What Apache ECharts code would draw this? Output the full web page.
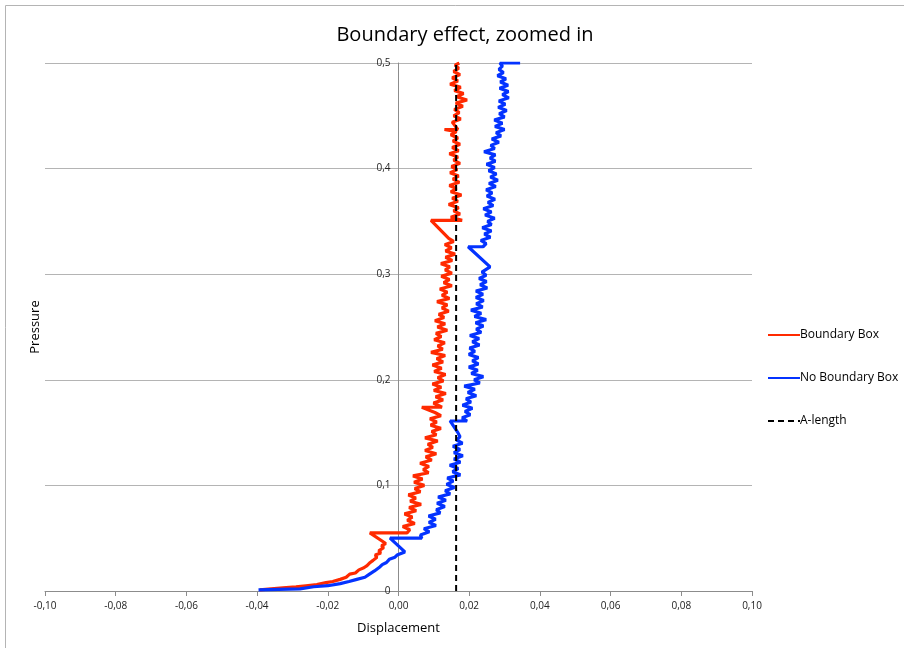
<!DOCTYPE html>
<html lang="en">
<head>
    <meta charset="UTF-8">
    <title>Boundary effect, zoomed in</title>
    <script src="https://cdn.jsdelivr.net/npm/echarts@6/dist/echarts.min.js"></script>
    <style>
        html, body { margin: 0; padding: 0; background: #fff; }
    </style>
</head>
<body>
<div style="height: 648px;width: 904px" id="container"></div>
<script>
    // [displacement, pressure]
    var boundaryBox = [
        [-0.0392,0.001],[-0.0360,0.002],[-0.0327,0.003],[-0.0290,0.004],[-0.0262,0.005],[-0.0231,0.006],
        [-0.0205,0.008],[-0.0186,0.009],[-0.0165,0.011],[-0.0148,0.013],[-0.0138,0.016],[-0.0122,0.017],
        [-0.0112,0.020],[-0.0098,0.022],[-0.0089,0.024],[-0.0080,0.027],[-0.0072,0.029],[-0.0061,0.032],
        [-0.0066,0.034],[-0.0050,0.036],[-0.0056,0.038],[-0.0042,0.041],[-0.0048,0.043],[-0.0036,0.045],
        [-0.0081,0.055],[0.0024,0.055],
        [0.0032,0.058],[0.0012,0.061],[0.0046,0.064],[0.0025,0.067],[0.0039,0.070],[0.0017,0.073],
        [0.0050,0.076],[0.0030,0.079],[0.0064,0.082],[0.0033,0.085],[0.0049,0.088],[0.0028,0.091],
        [0.0062,0.094],[0.0046,0.097],[0.0073,0.100],[0.0044,0.103],[0.0068,0.106],[0.0041,0.109],
        [0.0085,0.112],[0.0070,0.115],[0.0086,0.118],[0.0061,0.121],[0.0094,0.124],[0.0077,0.127],
        [0.0107,0.130],[0.0075,0.133],[0.0097,0.136],[0.0083,0.139],[0.0111,0.142],[0.0075,0.145],
        [0.0107,0.148],[0.0094,0.151],[0.0120,0.154],[0.0091,0.157],[0.0108,0.160],[0.0089,0.163],
        [0.0120,0.166],[0.0103,0.169],[0.0066,0.174],[0.0123,0.174],
        [0.0099,0.178],[0.0126,0.181],[0.0105,0.184],[0.0134,0.187],[0.0100,0.190],[0.0121,0.193],
        [0.0096,0.196],[0.0127,0.199],[0.0111,0.202],[0.0133,0.205],[0.0101,0.208],[0.0122,0.211],
        [0.0096,0.214],[0.0126,0.217],[0.0108,0.220],[0.0132,0.223],[0.0092,0.226],[0.0125,0.229],
        [0.0111,0.232],[0.0131,0.235],[0.0101,0.238],[0.0121,0.241],[0.0106,0.244],[0.0138,0.247],
        [0.0110,0.250],[0.0132,0.253],[0.0103,0.256],[0.0129,0.259],[0.0114,0.262],[0.0142,0.265],
        [0.0123,0.268],[0.0138,0.271],[0.0109,0.274],[0.0144,0.277],[0.0123,0.280],[0.0138,0.283],
        [0.0117,0.286],[0.0151,0.289],[0.0128,0.292],[0.0144,0.295],[0.0121,0.298],[0.0151,0.301],
        [0.0132,0.304],[0.0145,0.307],[0.0120,0.310],[0.0152,0.313],[0.0133,0.316],[0.0160,0.319],
        [0.0133,0.322],[0.0150,0.325],[0.0131,0.328],[0.0156,0.331],[0.0142,0.334],
        [0.0092,0.351],[0.0180,0.351],
        [0.0148,0.354],[0.0174,0.357],[0.0156,0.360],[0.0170,0.363],[0.0142,0.366],[0.0168,0.369],
        [0.0152,0.372],[0.0178,0.375],[0.0148,0.378],[0.0164,0.381],[0.0144,0.384],[0.0172,0.387],
        [0.0154,0.390],[0.0170,0.393],[0.0146,0.396],[0.0166,0.399],[0.0150,0.402],[0.0174,0.405],
        [0.0156,0.408],[0.0168,0.411],[0.0144,0.414],[0.0170,0.417],[0.0152,0.420],[0.0174,0.423],
        [0.0154,0.426],[0.0168,0.429],[0.0148,0.432],[0.0164,0.435],[0.0130,0.437],[0.0168,0.437],
        [0.0152,0.444],[0.0176,0.447],[0.0156,0.450],[0.0172,0.453],[0.0158,0.456],[0.0182,0.459],
        [0.0162,0.462],[0.0194,0.465],[0.0164,0.468],[0.0184,0.471],[0.0158,0.474],[0.0176,0.477],
        [0.0146,0.480],[0.0168,0.483],[0.0152,0.486],[0.0174,0.489],[0.0156,0.492],[0.0170,0.495],
        [0.0160,0.498],[0.0172,0.500]
    ];

    var noBoundaryBox = [
        [-0.0396,0.001],[-0.0340,0.0015],[-0.0279,0.002],[-0.0240,0.004],[-0.0200,0.005],[-0.0165,0.007],
        [-0.0140,0.009],[-0.0118,0.011],[-0.0095,0.013],[-0.0082,0.016],[-0.0068,0.019],[-0.0052,0.023],
        [-0.0046,0.025],[-0.0034,0.027],[-0.0026,0.030],[-0.0010,0.032],[-0.0004,0.034],[0.0018,0.037],
        [-0.0024,0.050],[0.0066,0.050],
        [0.0062,0.053],[0.0087,0.056],[0.0072,0.059],[0.0106,0.062],[0.0086,0.065],[0.0105,0.068],
        [0.0085,0.071],[0.0118,0.074],[0.0107,0.077],[0.0131,0.080],[0.0109,0.083],[0.0134,0.086],
        [0.0112,0.089],[0.0146,0.092],[0.0132,0.095],[0.0158,0.098],[0.0136,0.101],[0.0155,0.104],
        [0.0138,0.107],[0.0175,0.110],[0.0153,0.113],[0.0169,0.116],[0.0145,0.119],[0.0175,0.122],
        [0.0157,0.125],[0.0182,0.128],[0.0157,0.131],[0.0174,0.134],[0.0154,0.137],[0.0181,0.140],
        [0.0164,0.143],[0.0174,0.146],[0.0168,0.150],
        [0.0146,0.161],[0.0194,0.161],
        [0.0180,0.164],[0.0203,0.167],[0.0188,0.170],[0.0209,0.173],[0.0181,0.176],[0.0205,0.179],
        [0.0191,0.182],[0.0220,0.185],[0.0196,0.188],[0.0216,0.191],[0.0186,0.194],[0.0230,0.197],
        [0.0214,0.200],[0.0240,0.203],[0.0206,0.206],[0.0224,0.209],[0.0199,0.212],[0.0226,0.215],
        [0.0209,0.218],[0.0226,0.221],[0.0199,0.224],[0.0216,0.227],[0.0201,0.230],[0.0229,0.233],
        [0.0209,0.236],[0.0228,0.239],[0.0202,0.242],[0.0234,0.245],[0.0220,0.248],[0.0240,0.251],
        [0.0218,0.254],[0.0248,0.257],[0.0215,0.260],[0.0234,0.263],[0.0205,0.266],[0.0238,0.269],
        [0.0220,0.272],[0.0241,0.275],[0.0219,0.278],[0.0239,0.281],[0.0219,0.284],[0.0251,0.287],
        [0.0231,0.290],[0.0249,0.293],[0.0228,0.296],[0.0248,0.299],[0.0236,0.302],[0.0259,0.307],
        [0.0197,0.326],[0.0239,0.326],
        [0.0248,0.329],[0.0233,0.332],[0.0260,0.335],[0.0243,0.338],[0.0263,0.341],[0.0237,0.344],
        [0.0263,0.347],[0.0252,0.350],[0.0272,0.353],[0.0245,0.356],[0.0263,0.359],[0.0240,0.362],
        [0.0268,0.365],[0.0253,0.368],[0.0273,0.371],[0.0250,0.374],[0.0265,0.377],[0.0248,0.380],
        [0.0275,0.383],[0.0256,0.386],[0.0281,0.389],[0.0260,0.392],[0.0277,0.395],[0.0255,0.398],
        [0.0272,0.401],[0.0249,0.404],[0.0274,0.407],[0.0259,0.410],[0.0274,0.413],[0.0242,0.416],
        [0.0272,0.419],[0.0261,0.422],[0.0284,0.425],[0.0264,0.428],[0.0290,0.431],[0.0276,0.434],
        [0.0300,0.437],[0.0273,0.440],[0.0294,0.443],[0.0271,0.446],[0.0300,0.449],[0.0285,0.452],
        [0.0306,0.455],[0.0282,0.458],[0.0302,0.461],[0.0284,0.464],[0.0312,0.467],[0.0294,0.470],
        [0.0311,0.473],[0.0286,0.476],[0.0310,0.479],[0.0288,0.482],[0.0304,0.485],[0.0280,0.488],
        [0.0297,0.491],[0.0284,0.494],[0.0294,0.497],[0.0287,0.500],[0.0344,0.500]
    ];

    var aLength = [[0.0163, 0], [0.0163, 0.5]];

    var seriesNames = ['Boundary Box', 'No Boundary Box', 'A-length'];
    var seriesColors = ['#ff2a00', '#0433ff', '#000000'];

    var font = '"Open Sans", "Noto Sans", sans-serif';

    var chart = echarts.init(document.getElementById('container'));
    chart.setOption({
        animation: false,
        textStyle: { fontFamily: font },
        title: {
            text: 'Boundary effect, zoomed in',
            left: 460,
            top: 20,
            textAlign: 'center',
            textStyle: { fontSize: 20, fontWeight: 'normal', color: '#000', fontFamily: font }
        },
        legend: {
            orient: 'vertical',
            left: 762,
            top: 324,
            itemGap: 31,
            itemWidth: 32,
            itemHeight: 14,
            itemStyle: { color: 'transparent', borderColor: 'transparent', borderWidth: 0 },
            textStyle: { fontSize: 12, color: '#000', padding: [0, 0, 0, -5] },
            data: seriesNames
        },
        graphic: [
            {
                type: 'rect',
                shape: { x: 5.5, y: 5.5, width: 910, height: 700 },
                style: { fill: 'none', stroke: '#b4b4b4', lineWidth: 1 },
                silent: true
            },
            {
                type: 'text',
                x: 35,
                y: 327,
                rotation: Math.PI / 2,
                style: {
                    text: 'Pressure',
                    fill: '#000',
                    font: '13px ' + font,
                    textAlign: 'center',
                    textVerticalAlign: 'middle'
                }
            }
        ],
        grid: { left: 45, right: 152, top: 63, bottom: 57 },
        xAxis: {
            type: 'value',
            min: -0.1,
            max: 0.1,
            interval: 0.02,
            name: 'Displacement',
            nameLocation: 'middle',
            nameGap: 31,
            nameTextStyle: { fontSize: 13, color: '#000' },
            axisLine: { onZero: true, lineStyle: { color: '#8c8c8c' } },
            axisTick: { show: true, length: 5, lineStyle: { color: '#8c8c8c' } },
            axisLabel: {
                fontSize: 10,
                color: '#222',
                margin: 10,
                formatter: function (v) { return v.toFixed(2).replace('.', ','); }
            },
            splitLine: { show: false }
        },
        yAxis: {
            type: 'value',
            min: 0,
            max: 0.5,
            interval: 0.1,
            // axis sits on displacement 0 (middle of the plot)
            offset: -353.5,
            axisLine: { show: true, onZero: false, lineStyle: { color: '#8c8c8c' } },
            axisTick: { show: false },
            axisLabel: {
                fontSize: 10,
                color: '#222',
                margin: 8,
                formatter: function (v) { return v === 0 ? '0' : v.toFixed(1).replace('.', ','); }
            },
            splitLine: { show: true, lineStyle: { color: '#b4b4b4' } }
        },
        series: [
            {
                name: seriesNames[0],
                type: 'line',
                data: boundaryBox,
                symbol: 'none',
                color: seriesColors[0],
                lineStyle: { width: 3.2, color: seriesColors[0] }
            },
            {
                name: seriesNames[1],
                type: 'line',
                data: noBoundaryBox,
                symbol: 'none',
                color: seriesColors[1],
                lineStyle: { width: 3.2, color: seriesColors[1] }
            },
            {
                name: seriesNames[2],
                type: 'line',
                data: aLength,
                symbol: 'none',
                color: seriesColors[2],
                lineStyle: { width: 2, color: seriesColors[2], type: [6, 4] }
            }
        ]
    });
</script>
</body>
</html>
